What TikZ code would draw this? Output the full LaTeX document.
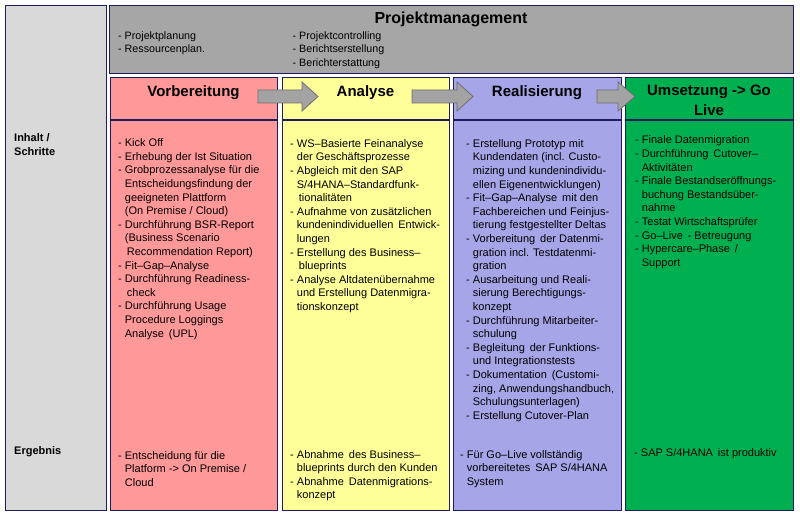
\documentclass[tikz,border=0pt]{standalone}
\usepackage{fontspec}
\setmainfont{Liberation Sans}
\definecolor{navy}{HTML}{1C1C5E}
\definecolor{sidegray}{HTML}{D9D9D9}
\definecolor{topgray}{HTML}{A6A6A6}
\definecolor{colred}{HTML}{FF9999}
\definecolor{colyellow}{HTML}{FFFF99}
\definecolor{colpurple}{HTML}{A5A5E8}
\definecolor{colgreen}{HTML}{00B050}
\definecolor{arrfill}{HTML}{A3A3A3}
\definecolor{arrdraw}{HTML}{6E6E6E}
\newcommand\myind{\hspace*{6.7pt}}
\newcommand\myindx{\hspace*{8.7pt}}
\newcommand\dsp{\ \,}
\begin{document}
\begin{tikzpicture}[x=1pt,y=-1pt,
  box/.style={draw=navy, line width=1.3pt, inner sep=0, anchor=north west},
  sepline/.style={draw=navy, line width=1.3pt},
  txt/.style={inner sep=0, anchor=base west, font=\fontsize{11}{13.6}\selectfont},
  toptxt/.style={inner sep=0, anchor=base west, font=\fontsize{10.7}{13.5}\selectfont},
  head/.style={inner sep=0, anchor=base, font=\fontsize{15}{19.5}\selectfont\bfseries, align=center},
  lab/.style={inner sep=0, anchor=base west, font=\fontsize{11}{14.4}\selectfont\bfseries, align=left},
  blockarrow/.style={fill=arrfill, draw=arrdraw, line width=0.8pt, line join=miter}
]
\useasboundingbox (0,0) rectangle (800,516);

% frames
\node[box, fill=sidegray, minimum width=101, minimum height=505] (side) at (5,5) {};
\node[box, fill=topgray, minimum width=684, minimum height=68] (pm) at (109,5) {};
\node[box, fill=colred, minimum width=167, minimum height=433] (vor) at (110,77) {};
\node[box, fill=colyellow, minimum width=167, minimum height=433] (ana) at (282,77) {};
\node[box, fill=colpurple, minimum width=168, minimum height=433] (rea) at (453,77) {};
\node[box, fill=colgreen, minimum width=168, minimum height=433] (ums) at (625,77) {};

\foreach \c in {vor,ana,rea,ums}
  \draw[sepline] (\c.west |- 0,120) -- (\c.east |- 0,120);

% block arrows
\draw[blockarrow] (258,90) -- (302,90) -- (302,82) -- (318,96.5) -- (302,111) -- (302,103) -- (258,103) -- cycle;
\draw[blockarrow] (412,90) -- (457,90) -- (457,82) -- (473,96.5) -- (457,111) -- (457,103) -- (412,103) -- cycle;
\draw[blockarrow] (597,90) -- (618,90) -- (618,82) -- (635,96.5) -- (618,111) -- (618,103) -- (597,103) -- cycle;

% top box
\node[inner sep=0, anchor=base, font=\fontsize{16}{19}\selectfont\bfseries] (pmtitle) at (451,24) {Projektmanagement};
\node[toptxt] (pmleft) at (118,39.5) {\parbox[t]{160pt}{\raggedright
- Projektplanung\\
- Ressourcenplan.}};
\node[toptxt] (pmright) at (292.5,39.5) {\parbox[t]{160pt}{\raggedright
- Projektcontrolling\\
- Berichtserstellung\\
- Berichterstattung}};

% column headers
\node[head] (hvor) at (193.5,97) {Vorbereitung};
\node[head] (hana) at (365.5,97) {Analyse};
\node[head] (hrea) at (537,97) {Realisierung};
\node[head] (hums) at (709,115.5) {Umsetzung -> Go\\Live};

% row labels
\node[lab] (linhalt) at (14,155.6) {Inhalt /\\Schritte};
\node[lab] (lerg) at (14,454) {Ergebnis};

% contents
\node[txt] (tvor) at (118,146.6) {\parbox[t]{160pt}{\raggedright
- Kick Off\\
- Erhebung der Ist Situation\\
- Grobprozessanalyse für die\\
\myind Entscheidungsfindung der\\
\myind geeigneten Plattform\\
\myind (On Premise / Cloud)\\
- Durchführung BSR-Report\\
\myind (Business Scenario\\
\myindx Recommendation Report)\\
- Fit–Gap–Analyse\\
- Durchführung Readiness-\\
\myindx check\\
- Durchführung Usage\\
\myind Procedure Loggings\\
\myind Analyse\dsp(UPL)}};

\node[txt] (tana) at (290,147.2) {\parbox[t]{160pt}{\raggedright
- WS–Basierte Feinanalyse\\
\myind der Geschäftsprozesse\\
- Abgleich mit den SAP\\
\myind S/4HANA–Standardfunk-\\
\myindx tionalitäten\\
- Aufnahme von zusätzlichen\\
\myind kundenindividuellen\dsp Entwick-\\
\myind lungen\\
- Erstellung des Business–\\
\myindx blueprints\\
- Analyse Altdatenübernahme\\
\myind und Erstellung Datenmigra-\\
\myind tionskonzept}};

\node[txt] (trea) at (466,147.2) {\parbox[t]{160pt}{\raggedright
- Erstellung Prototyp mit\\
\myind Kundendaten (incl. Custo-\\
\myind mizing und kundenindividu-\\
\myind ellen Eigenentwicklungen)\\
- Fit–Gap–Analyse\dsp mit den\\
\myind Fachbereichen und Feinjus-\\
\myind tierung festgestellter Deltas\\
- Vorbereitung\dsp der Datenmi-\\
\myind gration incl. Testdatenmi-\\
\myind gration\\
- Ausarbeitung und Reali-\\
\myind sierung Berechtigungs-\\
\myind konzept\\
- Durchführung Mitarbeiter-\\
\myind schulung\\
- Begleitung\dsp der Funktions-\\
\myind und Integrationstests\\
- Dokumentation\dsp (Customi-\\
\myind zing, Anwendungshandbuch,\\
\myind Schulungsunterlagen)\\
- Erstellung Cutover-Plan}};

\node[txt] (tums) at (635,143.9) {\parbox[t]{160pt}{\raggedright
- Finale Datenmigration\\
- Durchführung\dsp Cutover–\\
\myind Aktivitäten\\
- Finale Bestandseröffnungs-\\
\myind buchung Bestandsüber-\\
\myind nahme\\
- Testat Wirtschaftsprüfer\\
- Go–Live\dsp - Betreugung\\
- Hypercare–Phase\dsp /\\
\myind Support}};

% results
\node[txt] (evor) at (118,459) {\parbox[t]{160pt}{\raggedright
- Entscheidung für die\\
\myind Platform -> On Premise /\\
\myind Cloud}};
\node[txt] (eana) at (290,458) {\parbox[t]{160pt}{\raggedright
- Abnahme\dsp des Business–\\
\myind blueprints durch den Kunden\\
- Abnahme\dsp Datenmigrations-\\
\myind konzept}};
\node[txt] (erea) at (460,458) {\parbox[t]{160pt}{\raggedright
- Für Go–Live vollständig\\
\myind vorbereitetes\dsp SAP S/4HANA\\
\myind System}};
\node[txt] (eums) at (634,456) {\parbox[t]{160pt}{\raggedright
- SAP S/4HANA\dsp ist produktiv}};
\end{tikzpicture}
\end{document}
